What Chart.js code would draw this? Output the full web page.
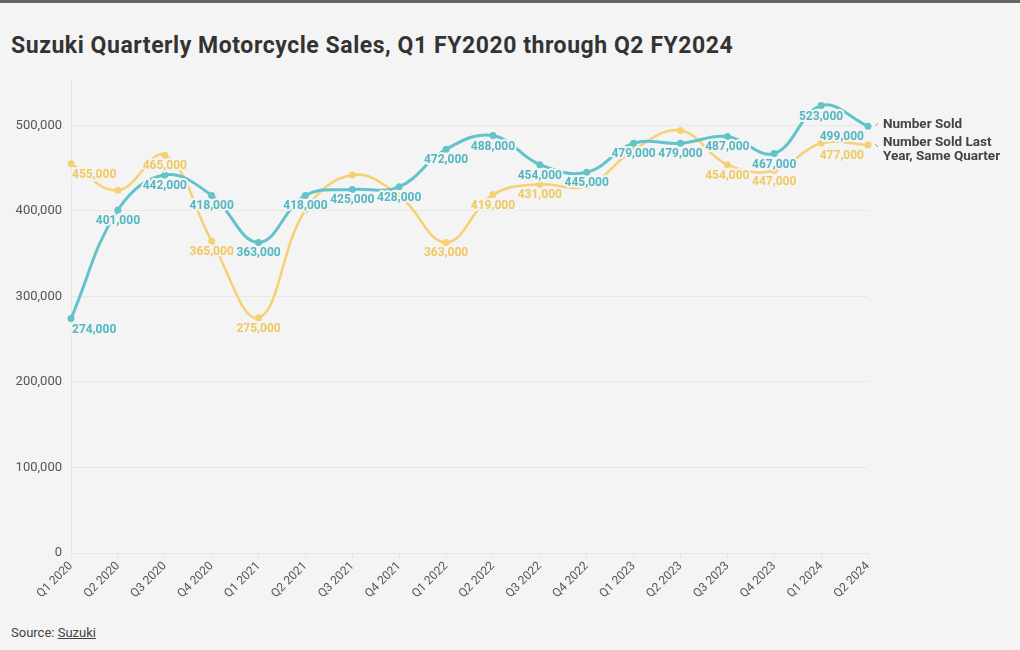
<!DOCTYPE html>
<html><head><meta charset="utf-8">
<script src="https://cdn.jsdelivr.net/npm/chart.js@4"></script>
<style>
html,body{margin:0;padding:0;background:#f4f4f4;width:1020px;height:650px;overflow:hidden;font-family:Roboto,"Noto Sans",sans-serif;}
#topbar{position:absolute;left:0;top:0;width:1020px;height:3px;background:#666;}
#title{position:absolute;left:11px;top:32px;font-size:23px;font-weight:700;color:#333;letter-spacing:0.55px;white-space:nowrap;}
#wrap{position:absolute;left:0;top:64px;width:1020px;height:547px;}
#source{position:absolute;left:11px;top:625px;font-size:13px;color:#444;}
#source a{color:#444;text-decoration:underline;}
</style></head>
<body>
<div id="topbar"></div>
<div id="title">Suzuki Quarterly Motorcycle Sales, Q1 FY2020 through Q2 FY2024</div>
<div id="wrap"><canvas id="c" width="1020" height="547"></canvas></div>
<div id="source">Source: <a>Suzuki</a></div>
<script>
const categories = ["Q1 2020","Q2 2020","Q3 2020","Q4 2020","Q1 2021","Q2 2021","Q3 2021","Q4 2021","Q1 2022","Q2 2022","Q3 2022","Q4 2022","Q1 2023","Q2 2023","Q3 2023","Q4 2023","Q1 2024","Q2 2024"];
const numberSold = [274000,401000,442000,418000,363000,418000,425000,428000,472000,488000,454000,445000,479000,479000,487000,467000,523000,499000];
const lastYearSold = [455000,424000,465000,365000,275000,401000,442000,418000,363000,419000,431000,429000,471000,494000,454000,447000,479000,477000];
const yTicks = [0,100000,200000,300000,400000,500000];
const seriesNames = ["Number Sold","Number Sold Last Year, Same Quarter"];

const TEAL = "#62c3cb", TEAL_TXT = "#52b7c1";
const YEL = "#f6d173", YEL_TXT = "#f0c85e";
const BG = "#f4f4f4";

const showLabel = [
  categories.map(()=>true),
  [true,false,true,true,true,false,false,false,true,true,true,false,false,false,true,true,false,true]
];

const labelPlugin = {
  id:'pointLabels',
  afterDatasetsDraw(chart){
    const ctx = chart.ctx;
    ctx.save();
    ctx.font = "bold 12px Roboto, 'Noto Sans', sans-serif";
    ctx.textBaseline = 'middle';
    ctx.lineJoin = 'round';
    [1,0].forEach(di=>{
      const meta = chart.getDatasetMeta(di);
      const ds = chart.data.datasets[di];
      meta.data.forEach((pt,i)=>{
        if(!showLabel[di][i]) return;
        const txt = ds.data[i].toLocaleString('en-US');
        let x = pt.x, y = pt.y + 11, align='center';
        if(i===0){ align='left'; x = pt.x + 1; }
        if(i===ds.data.length-1){ align='right'; x = pt.x - 4; }
        ctx.textAlign = align;
        ctx.strokeStyle = BG; ctx.lineWidth = 4;
        ctx.strokeText(txt,x,y);
        ctx.fillStyle = di===0?TEAL_TXT:YEL_TXT;
        ctx.fillText(txt,x,y);
      });
    });
    ctx.textAlign='left';
    ctx.font = "bold 13.5px Roboto, 'Noto Sans', sans-serif";
    ctx.fillStyle = "#444";
    const m0 = chart.getDatasetMeta(0).data, m1 = chart.getDatasetMeta(1).data;
    const p0 = m0[m0.length-1], p1 = m1[m1.length-1];
    const lx = p0.x + 15;
    ctx.fillText(seriesNames[0], lx, p0.y - 2);
    ctx.fillText("Number Sold Last", lx, p1.y - 2);
    ctx.fillText("Year, Same Quarter", lx, p1.y + 12);
    ctx.strokeStyle = "#999"; ctx.lineWidth = 1;
    ctx.beginPath(); ctx.moveTo(p0.x+7,p0.y); ctx.lineTo(p0.x+10,p0.y-3); ctx.stroke();
    ctx.beginPath(); ctx.moveTo(p1.x+7,p1.y-1); ctx.lineTo(p1.x+10,p1.y+2); ctx.stroke();
    ctx.restore();
  }
};

new Chart(document.getElementById('c'),{
  type:'line',
  data:{
    labels:categories,
    datasets:[
      {label:seriesNames[0],data:numberSold,borderColor:TEAL,backgroundColor:TEAL,borderWidth:3,pointRadius:3.5,pointBackgroundColor:TEAL,pointBorderWidth:0,tension:0.4},
      {label:seriesNames[1],data:lastYearSold,borderColor:YEL,backgroundColor:YEL,borderWidth:2.5,pointRadius:3.5,pointBackgroundColor:YEL,pointBorderWidth:0,tension:0.4}
    ]
  },
  options:{
    responsive:false,animation:false,
    layout:{padding:{left:0,right:152,top:4,bottom:0}},
    plugins:{legend:{display:false},tooltip:{enabled:false},title:{display:false}},
    scales:{
      x:{
        offset:false,
        grid:{drawOnChartArea:false,drawTicks:true,tickLength:6,color:"#e6e6e6"},
        border:{display:true,color:"#e6e6e6"},
        ticks:{maxRotation:45,minRotation:45,color:"#555",font:{family:"Roboto, 'Noto Sans', sans-serif",size:12},padding:0,autoSkip:false},
        afterFit(s){ s.height = 58; }
      },
      y:{
        min:0,max:552000,
        afterBuildTicks(s){ s.ticks = yTicks.map(v=>({value:v})); },
        grid:{color:"#e8e8e8",drawTicks:false},
        border:{display:true,color:"#e6e6e6"},
        ticks:{color:"#555",font:{family:"Roboto, 'Noto Sans', sans-serif",size:13},padding:9,callback:v=>Number(v).toLocaleString('en-US')},
        afterFit(s){ s.width = 71; }
      }
    }
  },
  plugins:[labelPlugin]
});
</script>
</body></html>
